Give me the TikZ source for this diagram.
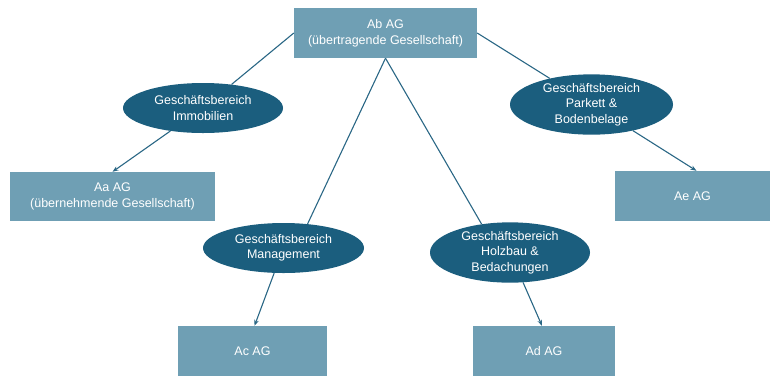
\documentclass[tikz,border=0pt]{standalone}
\usepackage{fontspec}
\setmainfont{Liberation Sans}
\usetikzlibrary{shapes.geometric,arrows.meta}
\definecolor{boxfill}{HTML}{6F9FB4}
\definecolor{ellfill}{HTML}{1B5E7E}
\definecolor{linec}{HTML}{2A6785}
\tikzset{
  x=1pt,y=-1pt,
  company/.style={rectangle,fill=boxfill,text=white,align=center,inner sep=0pt,
    font=\fontsize{12.5}{16}\selectfont},
  division/.style={ellipse,fill=ellfill,text=white,align=center,inner sep=0pt,
    font=\fontsize{12.5}{15.5}\selectfont},
  link/.style={draw=linec,line width=1.1pt},
  arrowlink/.style={link,-{Stealth[length=6pt,width=4.5pt]}}
}
\begin{document}
\begin{tikzpicture}
\useasboundingbox (0,0) rectangle (770,376);
\begin{scope}
\clip (0,0) rectangle (770,376);
\node[company,minimum width=183pt,minimum height=50pt] (ab) at (385.5,33) {Ab AG\\(übertragende Gesellschaft)};
\node[company,minimum width=205pt,minimum height=49pt] (aa) at (112.5,196.5) {Aa AG\\(übernehmende Gesellschaft)};
\node[company,minimum width=155pt,minimum height=50pt] (ae) at (692.5,196) {Ae AG};
\node[company,minimum width=149pt,minimum height=50pt] (ac) at (252.5,351) {Ac AG};
\node[company,minimum width=142pt,minimum height=50pt] (ad) at (544,351) {Ad AG};

\node[division,minimum width=160pt,minimum height=50pt] (imm) at (203,108) {Geschäftsbereich\\Immobilien};
\node[division,minimum width=163pt,minimum height=57pt] (pk) at (591.5,104.5) {Geschäftsbereich\\Parkett \&\\Bodenbelage};
\node[division,minimum width=161pt,minimum height=50pt] (mg) at (283.5,248) {Geschäftsbereich\\Management};
\node[division,minimum width=160pt,minimum height=52pt] (hz) at (510,252.5) {Geschäftsbereich\\Holzbau \&\\Bedachungen};

\draw[link] (ab.west) -- (imm);
\draw[link] (ab.east) -- (pk);
\draw[link] (ab.south) -- (mg.45);
\draw[link] (ab.south) -- (hz.135);
\draw[arrowlink] (imm) -- (aa.north);
\draw[arrowlink] (pk) -- ([xshift=4pt]ae.north);
\draw[arrowlink] (mg) -- ([xshift=2pt]ac.north);
\draw[arrowlink] (hz) -- ([xshift=-2pt]ad.north);
\end{scope}
\end{tikzpicture}
\end{document}
